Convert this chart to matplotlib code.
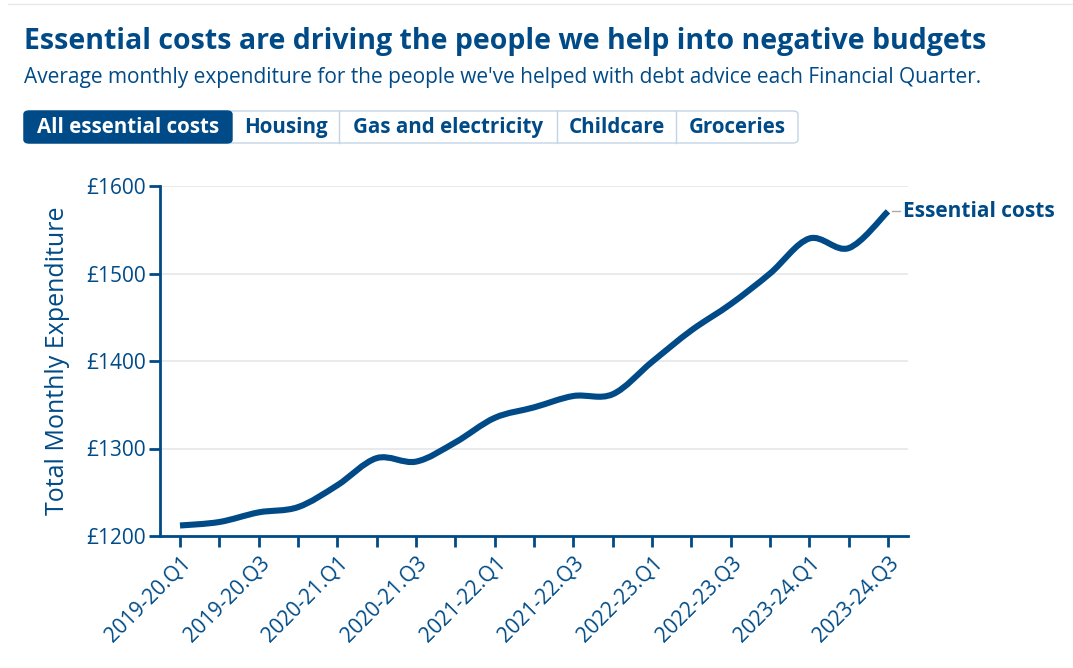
import numpy as np
import matplotlib.pyplot as plt
from matplotlib.path import Path
from matplotlib.patches import PathPatch, FancyBboxPatch

plt.rcParams['font.family'] = ['Open Sans', 'DejaVu Sans']

quarters = [
    "2019-20.Q1", "2019-20.Q2", "2019-20.Q3", "2019-20.Q4",
    "2020-21.Q1", "2020-21.Q2", "2020-21.Q3", "2020-21.Q4",
    "2021-22.Q1", "2021-22.Q2", "2021-22.Q3", "2021-22.Q4",
    "2022-23.Q1", "2022-23.Q2", "2022-23.Q3", "2022-23.Q4",
    "2023-24.Q1", "2023-24.Q2", "2023-24.Q3",
]
essential = [1212, 1216, 1227, 1233, 1258, 1289, 1285, 1307, 1335, 1347,
             1360, 1362, 1399, 1435, 1465, 1500, 1540, 1529, 1571]
y_ticks = [1200, 1300, 1400, 1500, 1600]
tabs = ["All essential costs", "Housing", "Gas and electricity", "Childcare", "Groceries"]

blue = "#004b87"
grid_col = "#e6e6e6"

fig = plt.figure(figsize=(10.73, 6.68), dpi=100)
W, H = 1073, 668
ax = fig.add_axes([160 / W, 1 - 536 / H, 748 / W, 350 / H])

# smooth line (catmull-rom as bezier segments)
x = np.arange(len(essential), dtype=float)
y = np.array(essential, dtype=float)
verts = [(x[0], y[0])]
codes = [Path.MOVETO]
n = len(x)
for i in range(n - 1):
    p0 = (x[max(i - 1, 0)], y[max(i - 1, 0)])
    p1 = (x[i], y[i])
    p2 = (x[i + 1], y[i + 1])
    p3 = (x[min(i + 2, n - 1)], y[min(i + 2, n - 1)])
    c1 = (p1[0] + (p2[0] - p0[0]) / 6, p1[1] + (p2[1] - p0[1]) / 6)
    c2 = (p2[0] - (p3[0] - p1[0]) / 6, p2[1] - (p3[1] - p1[1]) / 6)
    verts += [c1, c2, p2]
    codes += [Path.CURVE4] * 3
ax.add_patch(PathPatch(Path(verts, codes), fill=False, edgecolor=blue, lw=4.4,
                       capstyle='butt', zorder=3))

ax.set_xlim(-0.5085, n - 1 + 0.5085)
ax.set_ylim(1200, 1600)
ax.set_yticks(y_ticks)
ax.set_yticklabels(["£%d" % v for v in y_ticks])
ax.set_xticks(x)
ax.set_xticklabels([q if i % 2 == 0 else "" for i, q in enumerate(quarters)],
                   rotation=45, ha='right', rotation_mode='anchor')
ax.tick_params(axis='both', colors=blue, labelcolor=blue, labelsize=15,
               length=8, width=2)
ax.tick_params(axis='x', pad=4)
ax.tick_params(axis='y', pad=2)
for s in ['top', 'right']:
    ax.spines[s].set_visible(False)
for s in ['left', 'bottom']:
    ax.spines[s].set_color(blue)
    ax.spines[s].set_linewidth(2)
ax.grid(axis='y', color=grid_col, lw=1.2)
ax.set_axisbelow(True)
ax.set_ylabel("Total Monthly Expenditure", color=blue, fontsize=18, labelpad=12)

# end label
ax.plot([x[-1] + 0.1, x[-1] + 0.3], [y[-1], y[-1]], color="#aaaaaa", lw=1,
        clip_on=False)
ax.text(x[-1] + 0.37, y[-1], "Essential costs", color=blue, fontsize=15,
        fontweight='bold', va='center', ha='left')

# header
fig.add_artist(plt.Line2D([8 / W, 1], [1 - 4 / H, 1 - 4 / H], color="#e8e8e8", lw=1))
fig.text(24 / W, 1 - 41 / H, "Essential costs are driving the people we help into negative budgets",
         color=blue, fontsize=20.5, fontweight='bold', va='center')
fig.text(24 / W, 1 - 78 / H,
         "Average monthly expenditure for the people we've helped with debt advice each Financial Quarter.",
         color=blue, fontsize=15, va='center')

# tab buttons
edges = [24, 232, 339, 557, 676, 798]
ty0, ty1 = 111, 143
fig.add_artist(FancyBboxPatch((edges[0] / W, 1 - ty1 / H), (edges[-1] - edges[0]) / W,
                              (ty1 - ty0) / H, boxstyle="round,pad=0,rounding_size=0.005",
                              facecolor="white", edgecolor="#c3d4e5", lw=1,
                              transform=fig.transFigure))
fig.add_artist(FancyBboxPatch((edges[0] / W, 1 - ty1 / H), (edges[1] - edges[0]) / W,
                              (ty1 - ty0) / H, boxstyle="round,pad=0,rounding_size=0.005",
                              facecolor=blue, edgecolor=blue, lw=1,
                              transform=fig.transFigure))
for i, t in enumerate(tabs):
    if i > 1:
        fig.add_artist(plt.Line2D([edges[i] / W, edges[i] / W], [1 - ty1 / H, 1 - ty0 / H],
                                  color="#c3d4e5", lw=1))
    fig.text((edges[i] + edges[i + 1]) / 2 / W, 1 - 127.5 / H, t,
             color="white" if i == 0 else blue, fontsize=14.8, fontweight='bold',
             ha='center', va='center')

fig.savefig("out.png", dpi=100)
